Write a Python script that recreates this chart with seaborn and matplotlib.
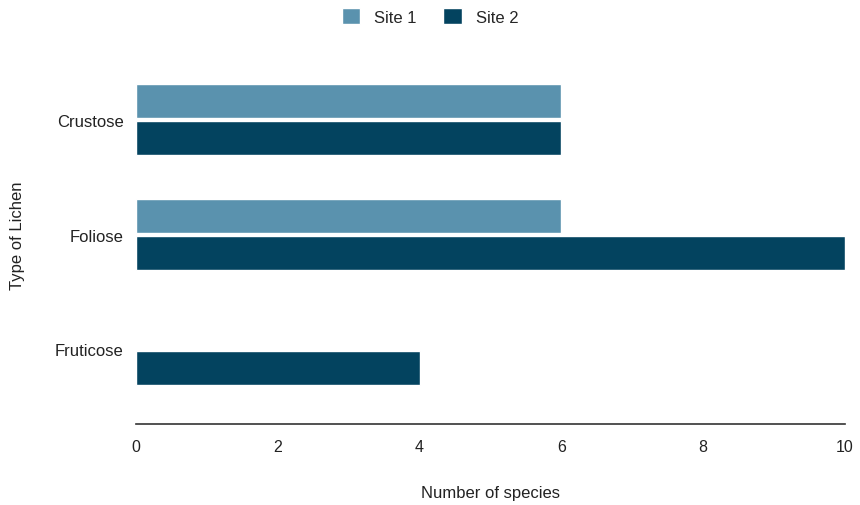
import matplotlib
matplotlib.use("Agg")
import matplotlib.pyplot as plt
import seaborn as sns
import pandas as pd

lichen_types = ["Crustose", "Foliose", "Fruticose"]
site1_counts = [6, 6, 0]
site2_counts = [6, 10, 4]
series_names = ["Site 1", "Site 2"]
x_ticks = [0, 2, 4, 6, 8, 10]

df = pd.DataFrame({
    "Type of Lichen": lichen_types * 2,
    "Number of species": site1_counts + site2_counts,
    "Site": [series_names[0]] * 3 + [series_names[1]] * 3,
})

sns.set_theme(style="white")
plt.rcParams["font.family"] = ["Liberation Sans", "DejaVu Sans"]

fig = plt.figure(figsize=(8.6, 5.06), dpi=100)
ax = fig.add_axes([0.158, 0.160, 0.8246, 0.749])

palette = {"Site 1": "#5a92ae", "Site 2": "#03435f"}
sns.barplot(data=df, x="Number of species", y="Type of Lichen", hue="Site",
            orient="h", palette=palette, width=0.64, gap=0.07,
            saturation=1, ax=ax, legend=True)

text_color = "#222222"
ax.set_xlim(0, 10)
ax.set_ylim(2.65, -0.65)
ax.set_xticks(x_ticks)
ax.set_xticklabels([str(t) for t in x_ticks], fontsize=11.5, color=text_color)
ax.tick_params(axis="y", labelsize=12, colors=text_color, length=0, pad=9)
ax.tick_params(axis="x", length=0, pad=11)
for side in ["top", "right", "left"]:
    ax.spines[side].set_visible(False)
ax.spines["bottom"].set_color("#333333")
ax.spines["bottom"].set_linewidth(1.2)
ax.grid(False)

ax.set_xlabel("Number of species", fontsize=12, color=text_color)
ax.set_ylabel("Type of Lichen", fontsize=12, color=text_color)
ax.xaxis.set_label_coords(0.5, -0.162)
ax.yaxis.set_label_coords(-0.157, 0.5)

handles, labels = ax.get_legend_handles_labels()
ax.get_legend().remove()
fig.legend(handles, labels, loc="upper center", bbox_to_anchor=(0.5, 1.0),
           ncol=2, frameon=False, fontsize=12, handlelength=1.1,
           handleheight=1.1, columnspacing=1.6, handletextpad=0.85,
           borderaxespad=0.15)

fig.savefig("out.png", dpi=100)
